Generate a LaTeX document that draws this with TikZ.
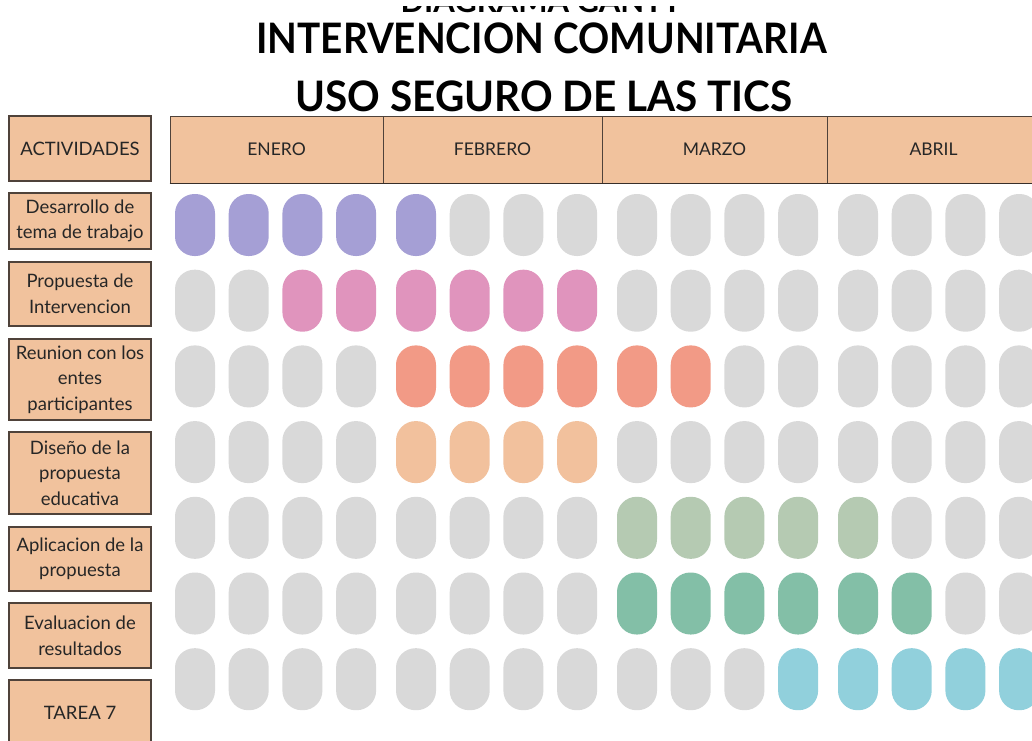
\documentclass[tikz,border=0pt]{standalone}
\usepackage{graphicx}
\usepackage{fontspec}
\setmainfont{Lato}
\newfontfamily\titlefont{Lato}
\definecolor{cPur}{HTML}{A59FD5}
\definecolor{cPink}{HTML}{E094BD}
\definecolor{cSal}{HTML}{F29A86}
\definecolor{cPeach}{HTML}{F2C19D}
\definecolor{cSage}{HTML}{B5CAB2}
\definecolor{cTeal}{HTML}{83BFA7}
\definecolor{cBlue}{HTML}{91D0DC}
\definecolor{cGray}{HTML}{D9D9D9}
\definecolor{cBox}{HTML}{F1C29D}
\definecolor{cEdge}{HTML}{4F423A}
\definecolor{cTxt}{HTML}{262626}
\tikzset{
  pill/.style={rectangle, rounded corners=19.5pt, minimum width=40pt, minimum height=62pt, inner sep=0pt, draw=none},
  actbox/.style={rectangle, fill=cBox, draw=cEdge, line width=1.3pt, minimum width=142pt, inner sep=0pt, align=center, text=cTxt, font=\fontsize{18.5}{25.5}\selectfont},
  monthbox/.style={rectangle, fill=cBox, draw=cEdge, line width=0.8pt, minimum height=67pt, inner sep=0pt, text=cTxt, font=\fontsize{17.5}{21}\selectfont},
  titletext/.style={inner sep=0pt, anchor=base, text=black, font=\titlefont\bfseries\fontsize{42}{48}\selectfont}
}
\begin{document}
\begin{tikzpicture}[x=1pt,y=-1pt]
\useasboundingbox (0,0) rectangle (1032,740);
\clip (0,0) rectangle (1032,740);
\fill[white] (0,0) rectangle (1032,740);
% titles
\begin{scope}
\clip (0,6.5) rectangle (1032,20);
\node[titletext, font=\titlefont\bfseries\fontsize{31}{36}\selectfont] (t0) at (541,12) {DIAGRAMA GANTT};
\end{scope}
\node[titletext] (t1) at (541.5,53) {\scalebox{0.921}[1]{INTERVENCION COMUNITARIA}};
\node[titletext] (t2) at (544,111) {\scalebox{0.963}[1]{USO SEGURO DE LAS TICS}};
% month header
\node[monthbox, minimum width=213pt] (m1) at (276.5,149.5) {ENERO};
\node[monthbox, minimum width=219pt] (m2) at (492.5,149.5) {FEBRERO};
\node[monthbox, minimum width=225pt] (m3) at (714.5,149.5) {MARZO};
\node[monthbox, minimum width=213pt] (m4) at (933.5,149.5) {ABRIL};
\draw[cEdge!70!black, line width=1.6pt] (m1.south west) -- (m4.south east);
% activity labels
\node[actbox, minimum height=65pt] (a0) at (80,148.5) {ACTIVIDADES};
\node[actbox, minimum height=56pt] (a1) at (80,221) {Desarrollo de\\tema de trabajo};
\node[actbox, minimum height=64pt] (a2) at (80,294) {Propuesta de\\Intervencion};
\node[actbox, minimum height=81pt] (a3) at (80,379.5) {Reunion con los\\entes\\participantes};
\node[actbox, minimum height=82pt] (a4) at (80,473) {Diseño de la\\propuesta\\educativa};
\node[actbox, minimum height=64pt] (a5) at (80,559) {Aplicacion de la\\propuesta};
\node[actbox, minimum height=65pt] (a6) at (80,635.5) {Evaluacion de\\resultados};
\node[actbox, minimum height=66pt] (a7) at (80,713) {TAREA 7};
% pills
\foreach \r/\a/\b/\col in {1/1/5/cPur, 2/3/8/cPink, 3/5/10/cSal, 4/5/8/cPeach, 5/9/13/cSage, 6/9/14/cTeal, 7/12/16/cBlue}{
  \foreach \c in {1,...,16}{
    \pgfmathsetmacro\xx{195+floor((\c-1)/4)*221+mod(\c-1,4)*53.7}
    \pgfmathsetmacro\yy{225+(\r-1)*75.7}
    \ifnum\c<\a\relax \def\fc{cGray}\else\ifnum\c>\b\relax \def\fc{cGray}\else\def\fc{\col}\fi\fi
    \node[pill, fill=\fc] (p\r-\c) at (\xx,\yy) {};
  }
}
\end{tikzpicture}
\end{document}
